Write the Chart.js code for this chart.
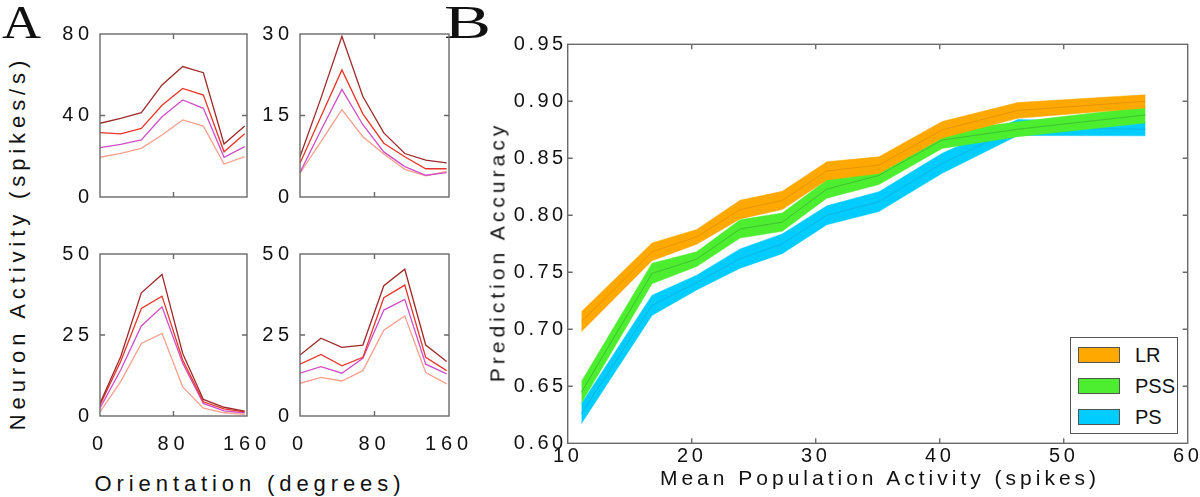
<!DOCTYPE html>
<html>
<head>
<meta charset="utf-8">
<script src="https://cdn.jsdelivr.net/npm/chart.js@4.4.0/dist/chart.umd.min.js"></script>
<style>
html,body{margin:0;padding:0;background:#fff;}
#root{position:relative;width:1200px;height:497px;overflow:hidden;font-family:"Liberation Sans",Arial,sans-serif;color:#111;}
#root canvas{position:absolute;}
.txt{position:absolute;white-space:nowrap;}
.rot{position:absolute;white-space:nowrap;transform:translate(-50%,-50%) rotate(-90deg);}
.sw{position:absolute;width:40px;height:14px;border:1px solid #555;}
.lg{position:absolute;font-size:20px;line-height:20px;}
</style>
</head>
<body>
<div id="root">
  <div class="txt" style="left:2px;top:-1px;font-family:'Liberation Serif',serif;font-size:47px;line-height:47px;transform:scaleX(1.15);transform-origin:0 0;">A</div>
  <div class="txt" style="left:444px;top:-1px;font-family:'Liberation Serif',serif;font-size:47px;line-height:47px;transform:scaleX(1.5);transform-origin:0 0;">B</div>

  <canvas id="a1" width="242" height="193" style="left:30px;top:19px"></canvas>
  <canvas id="a2" width="244" height="193" style="left:230px;top:19px"></canvas>
  <canvas id="a3" width="242" height="222" style="left:30px;top:239px"></canvas>
  <canvas id="a4" width="244" height="222" style="left:230px;top:239px"></canvas>
  <canvas id="b" width="700" height="467" style="left:500px;top:30px"></canvas>

  <div class="rot" style="left:18px;top:243px;font-size:22px;line-height:22px;letter-spacing:4.9px;">Neuron Activity (spikes/s)</div>
  <div class="txt" style="left:0px;width:500px;text-align:center;top:473px;font-size:22px;line-height:22px;letter-spacing:4.9px;">Orientation (degrees)</div>
  <div class="rot" style="left:497px;top:252px;font-size:21px;line-height:21px;letter-spacing:4px;">Prediction Accuracy</div>
  <div class="txt" style="left:580px;width:600px;text-align:center;top:467px;font-size:21px;line-height:21px;letter-spacing:4px;">Mean Population Activity (spikes)</div>

  <div id="legend" style="position:absolute;left:1070px;top:337px;width:106px;height:95px;border:1px solid #555;background:#fff;">
    <div class="sw" style="left:7px;top:9px;background:#ffa800"></div><div class="lg" style="left:64px;top:7px">LR</div>
    <div class="sw" style="left:7px;top:40px;background:#4ded30"></div><div class="lg" style="left:64px;top:38px">PSS</div>
    <div class="sw" style="left:7px;top:71px;background:#00ccff"></div><div class="lg" style="left:64px;top:69px">PS</div>
  </div>
</div>
<script>
// ---------------- DATA ----------------
// Panel A: orientation tuning curves, 4 neurons x 4 levels
const orientationDeg = [0, 22.5, 45, 67.5, 90, 112.5, 135, 157.5];
const orientationTicks = [0, 80, 160];

const neuron1Ticks = [0, 40, 80];
const neuron1Level4 = [36.2, 38.6, 41.4, 55.0, 64.0, 61.0, 26.0, 34.8];
const neuron1Level3 = [31.6, 31.0, 33.7, 45.0, 53.3, 50.0, 22.2, 31.0];
const neuron1Level2 = [24.2, 25.8, 28.0, 39.4, 47.6, 43.5, 19.5, 24.7];
const neuron1Level1 = [19.5, 21.4, 23.9, 30.4, 37.8, 34.8, 16.2, 19.8];

const neuron2Ticks = [0, 15, 30];
const neuron2Level4 = [7.4, 18.2, 29.6, 18.5, 11.8, 8.0, 6.8, 6.3];
const neuron2Level3 = [6.2, 14.8, 23.4, 15.3, 9.9, 7.4, 5.2, 5.2];
const neuron2Level2 = [4.5, 12.3, 19.8, 13.3, 8.3, 5.6, 4.0, 4.5];
const neuron2Level1 = [4.4, 10.2, 16.1, 11.1, 7.9, 5.1, 3.9, 4.7];

const neuron3Ticks = [0, 25, 50];
const neuron3Level4 = [3.9, 18.3, 38.0, 43.7, 19.3, 5.1, 2.7, 1.5];
const neuron3Level3 = [3.4, 16.8, 33.2, 37.0, 17.3, 4.4, 2.2, 1.3];
const neuron3Level2 = [2.4, 14.2, 27.8, 33.7, 16.3, 3.9, 1.6, 1.0];
const neuron3Level1 = [1.3, 10.6, 22.4, 25.5, 9.0, 2.4, 1.0, 0.5];

const neuron4Ticks = [0, 25, 50];
const neuron4Level4 = [18.8, 24.0, 21.2, 21.9, 40.2, 45.3, 21.9, 16.8];
const neuron4Level3 = [16.0, 19.0, 15.5, 18.1, 36.5, 40.4, 18.1, 14.0];
const neuron4Level2 = [13.2, 15.2, 13.2, 17.8, 32.7, 36.0, 16.0, 13.0];
const neuron4Level1 = [10.1, 11.9, 10.8, 14.0, 26.5, 30.9, 13.4, 9.9];

// Panel B: prediction accuracy vs mean population activity
const meanActivity = [11.1, 16.8, 20.4, 23.9, 27.3, 30.9, 35.1, 40.2, 46.3, 56.6];
const activityTicks = [10, 20, 30, 40, 50, 60];
const accuracyTicks = [0.60, 0.65, 0.70, 0.75, 0.80, 0.85, 0.90, 0.95];
const seriesNames = ['LR', 'PSS', 'PS'];
const lrMean  = [0.7066, 0.768, 0.781, 0.805, 0.813, 0.839, 0.844, 0.875, 0.892, 0.900];
const lrErr   = [0.0088, 0.0078, 0.0065, 0.0082, 0.0080, 0.0080, 0.0073, 0.0073, 0.0069, 0.0058];
const pssMean = [0.6447, 0.749, 0.7615, 0.788, 0.794, 0.823, 0.835, 0.866, 0.8755, 0.888];
const pssErr  = [0.0095, 0.0090, 0.0065, 0.0080, 0.0080, 0.0080, 0.0080, 0.0073, 0.0065, 0.0070];
const psMean  = [0.626, 0.721, 0.741, 0.762, 0.775, 0.800, 0.812, 0.8456, 0.877, 0.8755];
const psErr   = [0.0088, 0.0088, 0.0065, 0.0085, 0.0087, 0.0083, 0.0087, 0.0088, 0.0070, 0.0058];

// ---------------- STYLE ----------------
const FONT = '"Liberation Sans", Arial, sans-serif';
const levelColors = ['#9e2a2b', '#e8352a', '#d04ec6', '#f7a08c'];
const bandColors = ['#ffa800', '#4ded30', '#00ccff'];
const bandLineColors = ['#e4950a', '#3cc332', '#12b6de'];
const FRAME = '#6a6a6a';

const spacingPlugin = {
  id: 'spacing',
  beforeUpdate(c, a, o) { c.ctx.letterSpacing = (o.ls || 0) + 'px'; },
  beforeLayout(c, a, o) { c.ctx.letterSpacing = (o.ls || 0) + 'px'; },
  beforeDraw(c, a, o) { c.ctx.letterSpacing = (o.ls || 0) + 'px'; }
};

const framePlugin = {
  id: 'frame',
  afterDatasetsDraw(chart, args, o) {
    const { ctx, chartArea: { left, top, right, bottom }, scales: { x, y } } = chart;
    ctx.save();
    ctx.strokeStyle = FRAME;
    ctx.lineWidth = o.width || 1.3;
    const L = o.tick || 5;
    ctx.beginPath();
    x.ticks.forEach(t => {
      const px = x.getPixelForValue(t.value);
      if (px > left + 1 && px < right - 1) {
        ctx.moveTo(px, bottom); ctx.lineTo(px, bottom - L);
        ctx.moveTo(px, top); ctx.lineTo(px, top + L);
      }
    });
    y.ticks.forEach(t => {
      const py = y.getPixelForValue(t.value);
      if (py > top + 1 && py < bottom - 1) {
        ctx.moveTo(left, py); ctx.lineTo(left + L, py);
        ctx.moveTo(right, py); ctx.lineTo(right - L, py);
      }
    });
    ctx.stroke();
    ctx.strokeRect(left, top, right - left, bottom - top);
    ctx.restore();
  }
};

function smallChart(id, series, yTicks, cfg) {
  const datasets = series.map((arr, i) => ({
    data: orientationDeg.map((d, k) => ({ x: d, y: arr[k] })),
    borderColor: levelColors[i],
    borderWidth: 1.3,
    pointRadius: 0,
    tension: 0,
    fill: false
  }));
  new Chart(document.getElementById(id), {
    type: 'line',
    data: { datasets },
    plugins: [spacingPlugin, framePlugin],
    options: {
      responsive: false, animation: false, devicePixelRatio: 1,
      layout: { padding: { left: 0, top: 15, right: 25, bottom: 0 } },
      plugins: { legend: { display: false }, tooltip: { enabled: false }, spacing: { ls: 4.8 }, frame: { width: 1.4, tick: 5 } },
      scales: {
        x: {
          type: 'linear', min: 0, max: 160,
          afterBuildTicks: s => { s.ticks = orientationTicks.map(v => ({ value: v })); },
          grid: { display: false, drawTicks: false }, border: { display: false },
          ticks: { display: cfg.xLabels, padding: 16, color: '#111', font: { family: FONT, size: 20 }, maxRotation: 0, autoSkip: false },
          afterFit: s => { s.height = cfg.xh; s.paddingLeft = 0; s.paddingRight = 0; }
        },
        y: {
          type: 'linear', min: yTicks[0], max: yTicks[yTicks.length - 1],
          afterBuildTicks: s => { s.ticks = yTicks.map(v => ({ value: v })); },
          grid: { display: false, drawTicks: false }, border: { display: false },
          ticks: { padding: 6, color: '#111', font: { family: FONT, size: 20 }, autoSkip: false },
          afterFit: s => { s.width = 70; s.paddingTop = 0; s.paddingBottom = 0; }
        }
      }
    }
  });
}

smallChart('a1', [neuron1Level4, neuron1Level3, neuron1Level2, neuron1Level1], neuron1Ticks, { xLabels: false, xh: 15 });
smallChart('a2', [neuron2Level4, neuron2Level3, neuron2Level2, neuron2Level1], neuron2Ticks, { xLabels: false, xh: 15 });
smallChart('a3', [neuron3Level4, neuron3Level3, neuron3Level2, neuron3Level1], neuron3Ticks, { xLabels: true, xh: 45 });
smallChart('a4', [neuron4Level4, neuron4Level3, neuron4Level2, neuron4Level1], neuron4Ticks, { xLabels: true, xh: 45 });

// Panel B
const means = [lrMean, pssMean, psMean];
const errs = [lrErr, pssErr, psErr];
const bDatasets = [];
means.forEach((m, i) => {
  bDatasets.push({ label: seriesNames[i], data: meanActivity.map((x, k) => ({ x, y: m[k] })),
    borderColor: bandLineColors[i], borderWidth: 1, pointRadius: 0, tension: 0, fill: false });
  bDatasets.push({ label: seriesNames[i] + ' upper', data: meanActivity.map((x, k) => ({ x, y: m[k] + errs[i][k] })),
    borderColor: bandColors[i], backgroundColor: bandColors[i], borderWidth: 0.5, pointRadius: 0, tension: 0, fill: '+1' });
  bDatasets.push({ label: seriesNames[i] + ' lower', data: meanActivity.map((x, k) => ({ x, y: m[k] - errs[i][k] })),
    borderColor: bandColors[i], borderWidth: 0.5, pointRadius: 0, tension: 0, fill: false });
});

new Chart(document.getElementById('b'), {
  type: 'line',
  data: { datasets: bDatasets },
  plugins: [spacingPlugin, framePlugin],
  options: {
    responsive: false, animation: false, devicePixelRatio: 1,
    layout: { padding: { left: 0, top: 14.3, right: 12.3, bottom: 0 } },
    plugins: { legend: { display: false }, tooltip: { enabled: false }, spacing: { ls: 3.5 }, frame: { width: 1.4, tick: 5 } },
    scales: {
      x: {
        type: 'linear', min: 10, max: 60,
        afterBuildTicks: s => { s.ticks = activityTicks.map(v => ({ value: v })); },
        grid: { display: false, drawTicks: false }, border: { display: false },
        ticks: { padding: 1, color: '#111', font: { family: FONT, size: 20 }, maxRotation: 0, autoSkip: false },
        afterFit: s => { s.height = 53.7; s.paddingLeft = 0; s.paddingRight = 0; }
      },
      y: {
        type: 'linear', min: 0.60, max: 0.95,
        afterBuildTicks: s => { s.ticks = accuracyTicks.map(v => ({ value: v })); },
        grid: { display: false, drawTicks: false }, border: { display: false },
        ticks: { padding: 1, color: '#111', font: { family: FONT, size: 20 }, autoSkip: false, callback: v => Number(v).toFixed(2) },
        afterFit: s => { s.width = 67.7; s.paddingTop = 0; s.paddingBottom = 0; }
      }
    }
  }
});
</script>
</body>
</html>
